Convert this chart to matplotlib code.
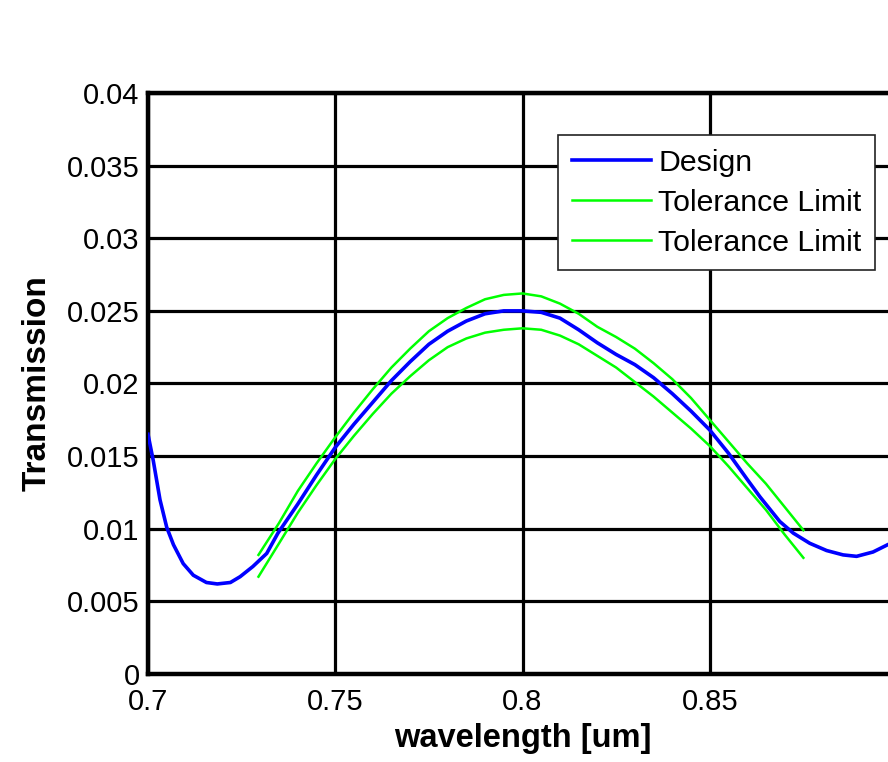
import numpy as np
import matplotlib
matplotlib.use("Agg")
import matplotlib.pyplot as plt

# Design curve (wavelength in um, transmission)
design_wl = [0.7000, 0.7014, 0.7032, 0.7050, 0.7068, 0.7094, 0.7121, 0.7156, 0.7185,
             0.7220, 0.7246, 0.7280, 0.7317, 0.7347, 0.740, 0.745, 0.750, 0.755,
             0.760, 0.765, 0.770, 0.775, 0.780, 0.785, 0.790, 0.795, 0.800, 0.805,
             0.810, 0.815, 0.820, 0.825, 0.830, 0.835, 0.840, 0.845, 0.850, 0.855,
             0.860, 0.8634, 0.8687, 0.8723, 0.8767, 0.8812, 0.8856, 0.8892, 0.8936,
             0.8975, 0.900]
design_tr = [0.0165, 0.0147, 0.0120, 0.0101, 0.0089, 0.0076, 0.0068, 0.0063, 0.0062,
             0.0063, 0.0067, 0.0074, 0.0083, 0.0097, 0.0117, 0.0137, 0.0156, 0.0172,
             0.0187, 0.0202, 0.0215, 0.0227, 0.0236, 0.0243, 0.0248, 0.0250, 0.0250, 0.0249,
             0.0245, 0.0237, 0.0228, 0.0220, 0.0213, 0.0204, 0.0193, 0.0181, 0.0168, 0.0152,
             0.0134, 0.0122, 0.0105, 0.0097, 0.0090, 0.0085, 0.0082, 0.0081, 0.0084,
             0.0089, 0.0092]

# Tolerance limits
tol_wl = [0.7295, 0.735, 0.740, 0.745, 0.750, 0.755, 0.760, 0.765, 0.770, 0.775,
          0.780, 0.785, 0.790, 0.795, 0.800, 0.805, 0.810, 0.815, 0.820, 0.825,
          0.830, 0.835, 0.840, 0.845, 0.850, 0.855, 0.860, 0.865, 0.870, 0.875]
tol_upper = [0.0082, 0.0104, 0.0126, 0.0145, 0.0163, 0.0180, 0.0196, 0.0211, 0.0224, 0.0236,
             0.0245, 0.0252, 0.0258, 0.0261, 0.0262, 0.0260, 0.0255, 0.0248, 0.0239, 0.0232,
             0.0224, 0.0214, 0.0203, 0.0190, 0.0175, 0.0160, 0.0145, 0.0131, 0.0115, 0.0099]
tol_lower = [0.0067, 0.0090, 0.0111, 0.0130, 0.0148, 0.0164, 0.0179, 0.0193, 0.0205, 0.0216,
             0.0225, 0.0231, 0.0235, 0.0237, 0.0238, 0.0237, 0.0233, 0.0227, 0.0219, 0.0211,
             0.0201, 0.0191, 0.0180, 0.0169, 0.0157, 0.0143, 0.0128, 0.0113, 0.0096, 0.0080]

xticks = [0.7, 0.75, 0.8, 0.85, 0.9]
xticklabels = ['0.7', '0.75', '0.8', '0.85', '']   # 0.9 label falls outside the cropped picture
yticks = [0, 0.005, 0.01, 0.015, 0.02, 0.025, 0.03, 0.035, 0.04]
yticklabels = ['0', '0.005', '0.01', '0.015', '0.02', '0.025', '0.03', '0.035', '0.04']

plt.rcParams['font.family'] = ['Liberation Sans', 'DejaVu Sans']

fig = plt.figure(figsize=(8.88, 7.62), dpi=100)
# axes run past the right edge of the picture (cropped figure)
ax = fig.add_axes([148 / 888, 1 - 674 / 762, 749 / 888, 581 / 762])

ax.plot(design_wl, design_tr, color='#0000ff', lw=2.6, label='Design', zorder=4)
ax.plot(tol_wl, tol_upper, color='#00ff00', lw=1.8, label='Tolerance Limit', zorder=3)
ax.plot(tol_wl, tol_lower, color='#00ff00', lw=1.8, label='Tolerance Limit', zorder=3)

ax.set_xlim(0.7, 0.9)
ax.set_ylim(0, 0.04)
ax.set_xticks(xticks)
ax.set_xticklabels(xticklabels)
ax.set_yticks(yticks)
ax.set_yticklabels(yticklabels)
ax.tick_params(direction='in', length=5, width=2, labelsize=21, pad=6, colors='black')
ax.tick_params(axis='x', pad=10)
ax.grid(True, color='black', lw=2.3, ls='-')
ax.set_axisbelow(True)
for s in ax.spines.values():
    s.set_linewidth(3.2)

ax.set_xlabel('wavelength [um]', fontsize=23.5, fontweight='bold', labelpad=5)
ax.set_ylabel('Transmission', fontsize=24, fontweight='bold', labelpad=10)

leg = ax.legend(loc='upper right', bbox_to_anchor=(875 / 888, 1 - 135 / 762),
                bbox_transform=fig.transFigure, fontsize=21.8, frameon=True,
                fancybox=False, framealpha=1, edgecolor='#222222',
                handlelength=2.6, handletextpad=0.25, labelspacing=0.4,
                borderpad=0.45, borderaxespad=0)
leg.get_frame().set_linewidth(1.2)

fig.savefig('out.png', dpi=100)
